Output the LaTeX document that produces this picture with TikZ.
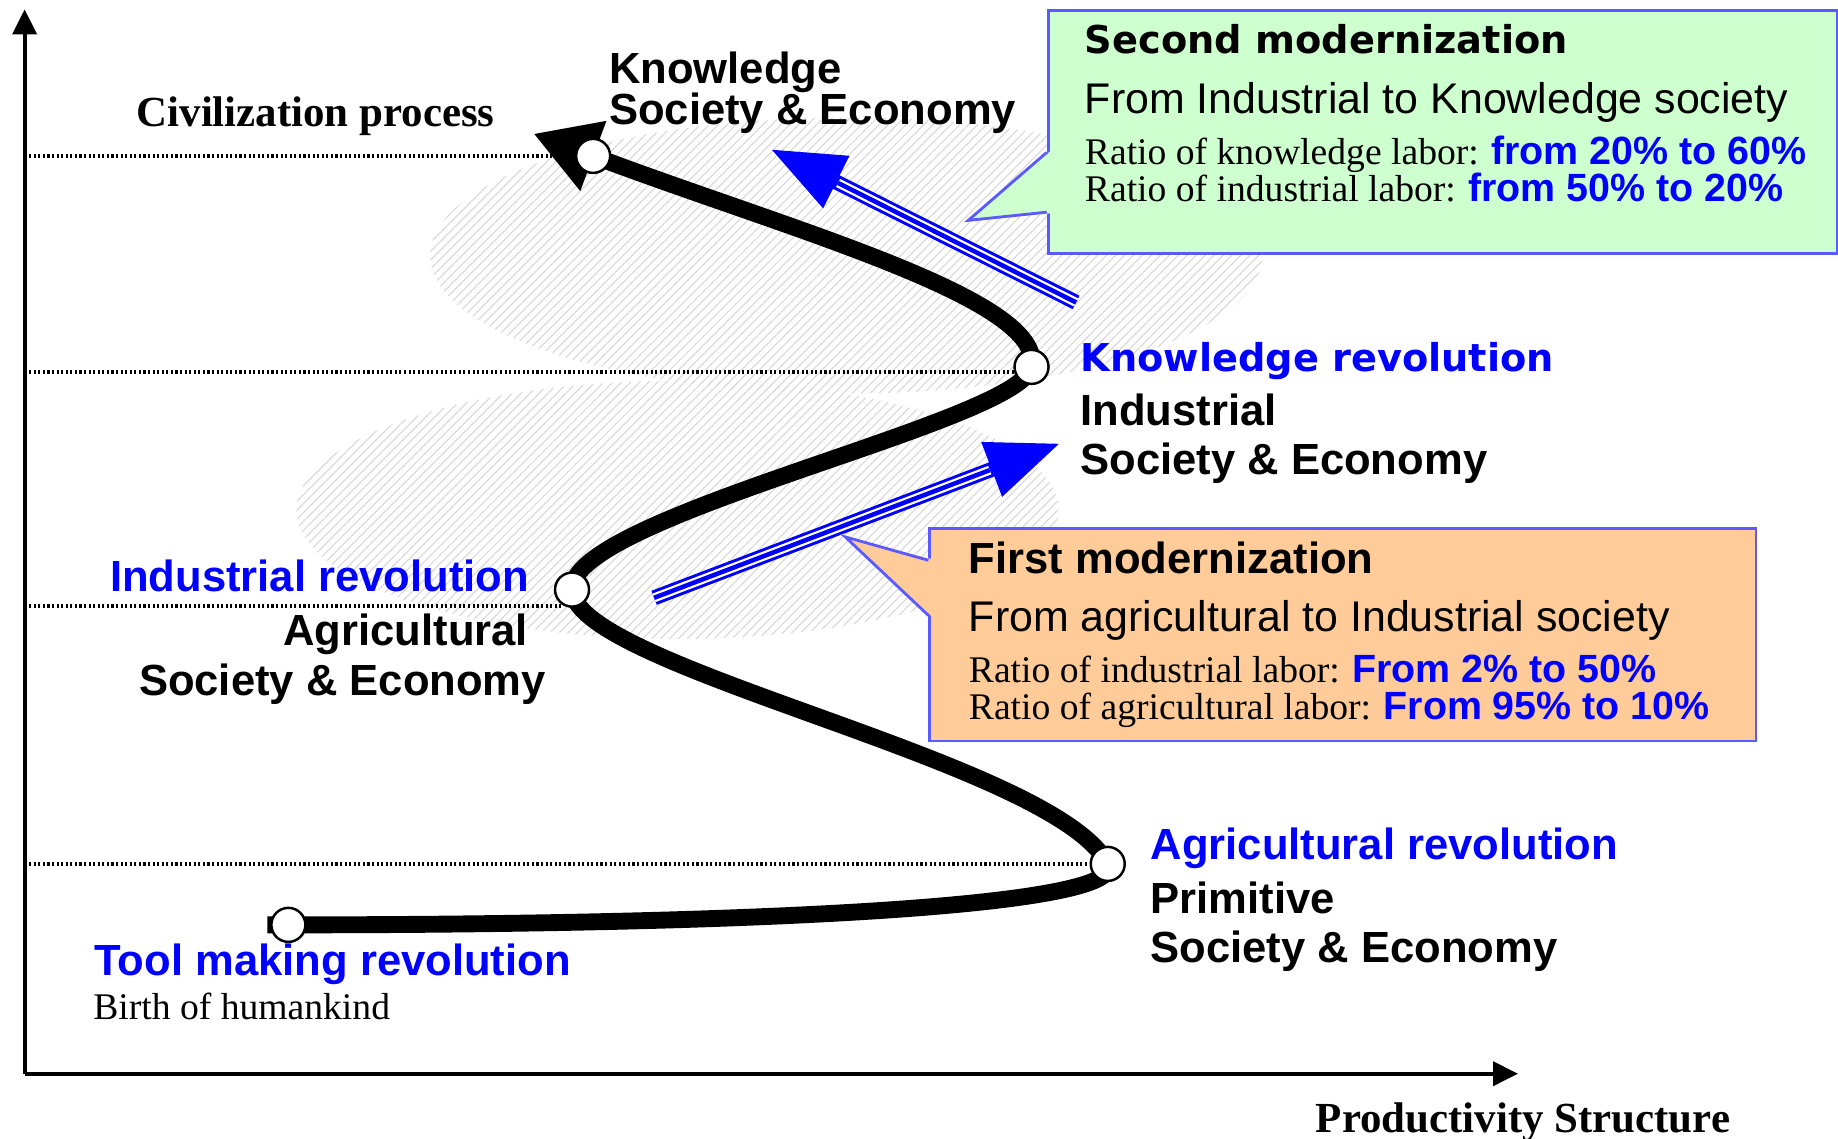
\documentclass[tikz,border=0pt]{standalone}
\usepackage{fontspec}
\setmainfont{Liberation Serif}
\setsansfont{Liberation Sans}
\newfontfamily\heavyfont{DejaVu Sans}
\usetikzlibrary{arrows.meta}
\usetikzlibrary{patterns.meta}

\definecolor{boxgreen}{RGB}{206,255,206}
\definecolor{boxorange}{RGB}{255,204,153}
\definecolor{boxline}{RGB}{90,90,255}
\definecolor{hatchgray}{RGB}{214,214,214}

\tikzset{
	axis/.style={line width=1.1pt, -{Triangle[length=0.25cm,width=0.24cm]}},
	level/.style={line width=1.1pt, dash pattern=on 0.6pt off 0.7pt},
	process/.style={line width=4.8pt, -{Triangle[length=0.64cm,width=0.7cm]}},
	era/.style={circle, draw, fill=white, line width=0.7pt, minimum size=0.34cm, inner sep=0pt},
	hatch/.style={pattern={Lines[angle=45,distance=1.8pt,line width=0.3pt]}, pattern color=hatchgray},
	modarrow/.style={blue, line width=0.15cm, -{Triangle[length=0.74cm,width=0.54cm]},
		postaction={draw=white, line width=0.09cm, -, shorten >=0.76cm},
		postaction={draw=blue, line width=0.045cm, -, shorten >=0.76cm}},
	callbox/.style={draw=boxline, line width=0.8pt, inner sep=0pt, anchor=north west},
	lbl/.style={inner sep=0pt, anchor=base west, font=\sffamily\bfseries\fontsize{12.4}{14}\selectfont},
	heavylbl/.style={inner sep=0pt, anchor=base west, font=\heavyfont\bfseries\fontsize{10.9}{13}\selectfont},
	plainlbl/.style={inner sep=0pt, anchor=base west, font=\sffamily\fontsize{12.2}{14}\selectfont},
	ratiolbl/.style={inner sep=0pt, anchor=base west, font=\rmfamily\fontsize{10.7}{12}\selectfont},
	axislbl/.style={inner sep=0pt, anchor=base west, font=\rmfamily\bfseries\fontsize{12.2}{14}\selectfont},
}
\newcommand{\bluepart}[1]{\textcolor{blue}{\sffamily\bfseries\fontsize{11.2}{12}\selectfont #1}}

\begin{document}
\begin{tikzpicture}[x=0.011722cm, y=-0.011722cm]
	\useasboundingbox (0,0) rectangle (1568,971);
	\fill[hatch] (722,218) ellipse [x radius=4.16cm, y radius=1.38cm];
	\fill[hatch] (578,435) ellipse [x radius=3.81cm, y radius=1.29cm];

	\coordinate (origin) at (21,916);
	\coordinate (start) at (228,789);
	\coordinate (tool) at (246,789);
	\coordinate (agri) at (945,737);
	\coordinate (indu) at (488,503);
	\coordinate (know) at (880,313);
	\coordinate (top) at (506,133);
	\coordinate (tip) at (455,114);

	\draw[level] (top -| origin) -- (top);
	\draw[level] (know -| origin) ++(0,4) -- ++(850,0);
	\draw[level] (indu -| origin) ++(0,14) -- ++(460,0);
	\draw[level] (agri -| origin) -- (agri);
	\draw[axis] (origin) -- (21,8);
	\draw[axis] (origin) -- (1295,916);

	\draw[process] (start) -- (tool) .. controls (620,789) and (965,775) .. (agri)
		.. controls (899,649) and (490,570) .. (indu)
		.. controls (486,440) and (871,360) .. (know)
		.. controls (892,255) and (673,196) .. (top) -- (tip);
	\foreach \p in {tool,agri,indu,know,top}
		\node[era] (\p c) at (\p) {};

	\coordinate (m1a) at (558,510);
	\coordinate (m1b) at (905,378);
	\coordinate (m2a) at (918,258);
	\coordinate (m2b) at (657,127);
	\draw[modarrow] (m1a) -- (m1b);
	\draw[modarrow] (m2a) -- (m2b);

	%
	\node[callbox, fill=boxgreen, minimum width=7.89cm, minimum height=2.43cm] (secondbox) at (893,8) {};
	\coordinate (p2) at (826,188);
	\fill[boxgreen] (p2) -- (896,129) -- (896,182) -- cycle;
	\draw[boxline, line width=0.8pt] (893,130) -- (p2) -- (893,181);
	\node[callbox, fill=boxorange, minimum width=8.26cm, minimum height=2.12cm] (firstbox) at (792,450) {};
	\coordinate (p1) at (721,458);
	\fill[boxorange] (p1) -- (795,477) -- (795,526) -- cycle;
	\draw[boxline, line width=0.8pt] (792,478) -- (p1) -- (792,525);

	\node[heavylbl] (secondt) at (925,46) {Second modernization};
	\node[plainlbl] (secondf) at (925,97) {From Industrial to Knowledge society};
	\node[ratiolbl] (secondk) at (925,140) {Ratio of knowledge labor: \bluepart{from 20\% to 60\%}};
	\node[ratiolbl] (secondi) at (925,172) {Ratio of industrial labor: \bluepart{from 50\% to 20\%}};
	\node[lbl] (firstt) at (826,489) {First modernization};
	\node[plainlbl] (firstf) at (826,539) {From agricultural to Industrial society};
	\node[ratiolbl] (firsti) at (826,582) {Ratio of industrial labor: \bluepart{From 2\% to 50\%}};
	\node[ratiolbl] (firsta) at (826,614) {Ratio of agricultural labor: \bluepart{From 95\% to 10\%}};

	\node[axislbl] (civil) at (116,108) {Civilization process};
	\node[axislbl] (prod) at (1122,966) {Productivity Structure};
	\node[lbl] (knowsoc1) at (519,71) {Knowledge};
	\node[lbl] (knowsoc2) at (519,106) {Society \& Economy};
	\node[heavylbl, text=blue] (knowrev) at (921,317) {Knowledge revolution};
	\node[lbl] (indsoc1) at (921,363) {Industrial};
	\node[lbl] (indsoc2) at (921,405) {Society \& Economy};
	\node[lbl, text=blue, anchor=base east] (indrev) at (452,505) {Industrial revolution};
	\node[lbl, anchor=base east] (agrisoc1) at (451,551) {Agricultural};
	\node[lbl] (agrisoc2) at (118,593) {Society \& Economy};
	\node[lbl, text=blue] (agrirev) at (981,733) {Agricultural revolution};
	\node[lbl] (primsoc1) at (981,779) {Primitive};
	\node[lbl] (primsoc2) at (981,821) {Society \& Economy};
	\node[lbl, text=blue] (toolrev) at (80,832) {Tool making revolution};
	\node[ratiolbl] (birth) at (79,870) {Birth of humankind};
\end{tikzpicture}
\end{document}
